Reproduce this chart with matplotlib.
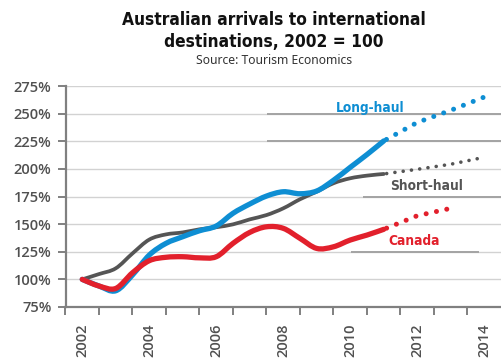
import numpy as np
import matplotlib
matplotlib.use("Agg")
import matplotlib.pyplot as plt
from matplotlib.path import Path
from matplotlib.patches import PathPatch
from matplotlib.ticker import FixedLocator, FuncFormatter

# half-yearly readings, 2002 = 100
years = [2002, 2002.5, 2003, 2003.5, 2004, 2004.5, 2005, 2005.5, 2006, 2006.5,
         2007, 2007.5, 2008, 2008.5, 2009, 2009.5, 2010, 2010.5, 2011]
long_haul = [100, 94, 89.7, 104, 122, 132.6, 138.6, 144, 148.3, 159.8,
             168.2, 175.4, 179.3, 177.5, 180, 189.7, 201.4, 213, 225.3]
short_haul = [100, 104.8, 110, 123.5, 136, 140.7, 142.5, 145.3, 147.2, 149.8,
              154.3, 158.2, 164.3, 172.5, 179.4, 187, 191.5, 193.9, 195.4]
canada = [100, 94, 91.8, 106, 116.9, 120, 120.5, 119.5, 120.5, 132.6,
          142.5, 147.6, 146.2, 137.1, 128, 129.5, 135.6, 140.1, 145.3]

# forecasts (dotted)
fc_years = [2011, 2012, 2013, 2014]
long_haul_fc = [225.3, 242, 253, 265]
short_haul_fc = [195.4, 199.6, 204.2, 210.5]
canada_fc_years = [2011, 2012, 2013]
canada_fc = [145.3, 157.6, 164.3]

blue = "#0e8ed3"
grey = "#555555"
red = "#e2202c"
axis_col = "#808080"
cond = ["Noto Sans Condensed", "Noto Sans", "DejaVu Sans"]
cond_bold = ["Noto Sans Condensed Bold", "Noto Sans Condensed SemiBold",
             "Noto Sans Condensed ExtraBold", "Noto Sans Condensed",
             "DejaVu Sans"]


def smooth_path(x, y):
    # catmull-rom through the points, drawn as bezier curves
    pts = np.column_stack([x, y]).astype(float)
    verts = [pts[0]]
    codes = [Path.MOVETO]
    n = len(pts)
    for i in range(n - 1):
        p0 = pts[max(i - 1, 0)]
        p1 = pts[i]
        p2 = pts[i + 1]
        p3 = pts[min(i + 2, n - 1)]
        c1 = p1 + (p2 - p0) / 6
        c2 = p2 - (p3 - p1) / 6
        verts += [c1, c2, p2]
        codes += [Path.CURVE4] * 3
    return Path(verts, codes)


fig = plt.figure(figsize=(5.01, 3.6), dpi=100)
ax = fig.add_axes([65.5 / 501, 53 / 360, (501 - 65.5) / 501, 221 / 360])
renderer = fig.canvas.get_renderer()


def fit_width(txt, px):
    # scale the font so the text takes px pixels across
    w = txt.get_window_extent(renderer).width
    txt.set_fontsize(txt.get_fontsize() * px / w)
    return txt.get_fontsize()


ax.set_xlim(2001.5, 2014.5)
ax.set_ylim(75, 275)

# gridlines
for v in range(100, 276, 25):
    ax.axhline(v, color="#d2d2d2", lw=1.0, zorder=0)

# leader lines under the series labels (y, x0, x1)
leaders = [(250, 2007.52, 2014.5), (225, 2007.52, 2014.5),
           (175, 2010.37, 2014.5), (125, 2010.03, 2013.83)]
for y, x0, x1 in leaders:
    ax.plot([x0, x1], [y, y], color="#a3a3a3", lw=1.4, zorder=1,
            solid_capstyle="butt", clip_on=False)

for vals, col, lw in [(short_haul, grey, 2.7), (long_haul, blue, 3.8),
                      (canada, red, 3.8)]:
    ax.add_patch(PathPatch(smooth_path(years, vals), fill=False,
                           edgecolor=col, lw=lw, capstyle="round",
                           joinstyle="round", zorder=3))

ax.plot(fc_years, short_haul_fc, color=grey, lw=2.6, ls=(1.5, (0.01, 2.3)),
        dash_capstyle="round", zorder=3)
ax.plot(fc_years, long_haul_fc, color=blue, lw=3.6, ls=(1.5, (0.01, 2.1)),
        dash_capstyle="round", zorder=3)
ax.plot(canada_fc_years, canada_fc, color=red, lw=3.6, ls=(1.5, (0.01, 2.1)),
        dash_capstyle="round", zorder=3)

lab = dict(fontweight="bold", family=cond_bold, stretch="condensed",
           ha="center", va="center")
t_long = ax.text(2010.6, 255.2, "Long-haul", color=blue, fontsize=11, **lab)
lab_size = fit_width(t_long, 69)
ax.text(2012.29, 184.5, "Short-haul", color=grey, fontsize=lab_size, **lab)
ax.text(2011.92, 134.7, "Canada", color=red, fontsize=lab_size, **lab)

# axes styling
for s in ["top", "right"]:
    ax.spines[s].set_visible(False)
for s in ["left", "bottom"]:
    ax.spines[s].set_color(axis_col)
    ax.spines[s].set_linewidth(1.6)

ax.set_yticks(range(75, 276, 25))
ax.yaxis.set_major_formatter(FuncFormatter(lambda v, p: f"{int(v)}%"))
ax.tick_params(axis="y", length=6, width=1.4, color=axis_col, pad=4,
               labelsize=10.5, labelcolor="#505050")

ax.set_xticks(range(2002, 2015, 2))
ax.xaxis.set_minor_locator(FixedLocator(np.arange(2001.5, 2014, 1)))
ax.tick_params(axis="x", which="major", length=0, pad=12, labelsize=10.5,
               labelcolor="#505050", labelrotation=90)
ax.tick_params(axis="x", which="minor", length=6, width=1.4, color=axis_col)
for t in ax.get_xticklabels() + ax.get_yticklabels():
    t.set_family(["Open Sans", "DejaVu Sans"])
    t.set_fontweight("semibold")

ttl = dict(ha="center", va="center", fontweight="bold", family=cond_bold,
           stretch="condensed", color="#111111")
t1 = fig.text(274 / 501, 1 - 20 / 360, "Australian arrivals to international",
              fontsize=13.5, **ttl)
ttl_size = fit_width(t1, 305)
fig.text(274 / 501, 1 - 42 / 360, "destinations, 2002 = 100",
         fontsize=ttl_size, **ttl)
t3 = fig.text(274 / 501, 1 - 61 / 360, "Source: Tourism Economics",
              ha="center", va="center", fontsize=8.5, family=cond,
              stretch="condensed", color="#333333")
fit_width(t3, 157)

fig.savefig("out.png", dpi=100)
